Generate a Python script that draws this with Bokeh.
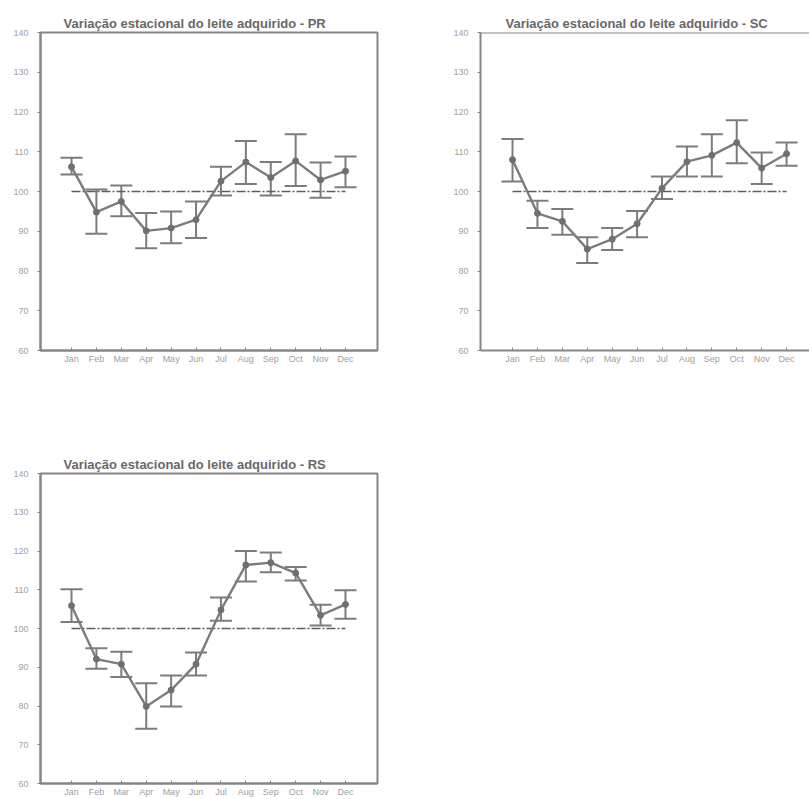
from bokeh.plotting import figure
from bokeh.models import ColumnDataSource, Whisker, TeeHead, FixedTicker, Span, Range1d
from bokeh.layouts import column, row
from bokeh.embed import file_html
from bokeh.resources import INLINE

months = ["Jan", "Feb", "Mar", "Apr", "May", "Jun", "Jul", "Aug", "Sep", "Oct", "Nov", "Dec"]
y_ticks = [60, 70, 80, 90, 100, 110, 120, 130, 140]
baseline = 100

pr_mean = [106.2, 94.8, 97.5, 90.1, 90.8, 92.9, 102.6, 107.4, 103.5, 107.7, 102.9, 105.1]
pr_upper = [108.5, 100.5, 101.5, 94.6, 95.0, 97.5, 106.2, 112.7, 107.4, 114.4, 107.3, 108.8]
pr_lower = [104.3, 89.4, 93.8, 85.7, 87.0, 88.3, 99.0, 101.9, 99.0, 101.4, 98.4, 101.1]

sc_mean = [108.0, 94.5, 92.5, 85.5, 88.0, 91.9, 100.8, 107.5, 109.1, 112.3, 105.9, 109.5]
sc_upper = [113.2, 97.7, 95.6, 88.5, 90.8, 95.1, 103.8, 111.3, 114.4, 117.9, 109.8, 112.3]
sc_lower = [102.5, 90.8, 89.1, 82.0, 85.3, 88.5, 98.1, 103.8, 103.8, 107.1, 101.9, 106.5]

rs_mean = [105.9, 92.1, 90.8, 79.9, 84.1, 90.8, 104.8, 116.4, 117.0, 114.3, 103.4, 106.2]
rs_upper = [110.1, 94.9, 94.0, 85.9, 87.9, 93.8, 108.0, 120.0, 119.6, 115.9, 106.1, 109.9]
rs_lower = [101.7, 89.6, 87.5, 74.1, 79.9, 87.9, 102.0, 112.1, 114.5, 112.4, 100.8, 102.5]

GRAY = "#7c7c7c"
FRAME = "#858585"
TICK_TXT = "#a0a0a0"


def make(title, mean, upper, lower, w, h, bl, br, bt, bb, xr, title_off, outline=True):
    x = list(range(1, len(months) + 1))
    p = figure(width=w, height=h, output_backend="svg", toolbar_location=None,
               x_range=Range1d(*xr), y_range=Range1d(y_ticks[0], y_ticks[-1]),
               min_border_left=bl, min_border_right=br, min_border_top=bt,
               min_border_bottom=bb, title=title)
    p.title.text_font = "Liberation Sans"
    p.title.text_font_size = "13px"
    p.title.text_font_style = "bold"
    p.title.text_color = "#686868"
    p.title.align = "left"
    p.title.offset = title_off
    p.title.standoff = 3
    p.xgrid.visible = False
    p.ygrid.visible = False
    p.background_fill_color = "white"
    p.border_fill_color = "white"
    if outline:
        p.outline_line_color = FRAME
        p.outline_line_width = 2
        p.outline_line_alpha = 1
    else:
        p.outline_line_color = None
        p.add_layout(Span(location=y_ticks[-1], dimension="width", line_color=FRAME, line_width=2))

    p.xaxis.ticker = FixedTicker(ticks=x)
    p.xaxis.major_label_overrides = {xi: m for xi, m in zip(x, months)}
    p.yaxis.ticker = FixedTicker(ticks=y_ticks)
    for ax in (p.xaxis, p.yaxis):
        ax.axis_line_color = FRAME
        ax.axis_line_width = 2
        ax.major_tick_line_color = FRAME
        ax.major_tick_line_width = 1
        ax.minor_tick_line_color = None
        ax.major_label_text_font = "Liberation Sans"
        ax.major_label_text_font_size = "9px"
        ax.major_label_text_color = TICK_TXT
    p.yaxis.major_tick_out = 3
    p.yaxis.major_tick_in = 0
    p.yaxis.major_label_standoff = 9
    p.xaxis.major_tick_out = 0
    p.xaxis.major_tick_in = 3
    p.xaxis.major_label_standoff = 3

    p.line(x=[x[0], x[-1]], y=[baseline, baseline], line_color="#5e5e5e",
           line_width=1.6, line_dash="9 2 2 2")

    src = ColumnDataSource(dict(x=x, mean=mean, upper=upper, lower=lower))
    wk = Whisker(base="x", upper="upper", lower="lower", source=src, dimension="height",
                 line_color=GRAY, line_width=2,
                 upper_head=TeeHead(size=22, line_color=GRAY, line_width=2),
                 lower_head=TeeHead(size=22, line_color=GRAY, line_width=2))
    p.add_layout(wk)
    p.line(x="x", y="mean", source=src, line_color=GRAY, line_width=2.4)
    p.scatter(x="x", y="mean", source=src, size=6, fill_color="#6f6f6f", line_color="#6f6f6f")
    return p


p1 = make("Variação estacional do leite adquirido -  PR", pr_mean, pr_upper, pr_lower,
          405, 400, 40, 28, 32, 50, (-0.245, 13.285), 23)
p2 = make("Variação estacional do leite adquirido - SC", sc_mean, sc_upper, sc_lower,
          404, 400, 75, 0, 32, 50, (-0.285, 12.92), 25, outline=False)
p3 = make("Variação estacional do leite adquirido - RS", rs_mean, rs_upper, rs_lower,
          405, 399, 40, 28, 73, 11, (-0.245, 13.285), 23)

layout = column(row(p1, p2, spacing=0), p3, spacing=0)
open("out.html", "w").write(file_html(layout, INLINE))
